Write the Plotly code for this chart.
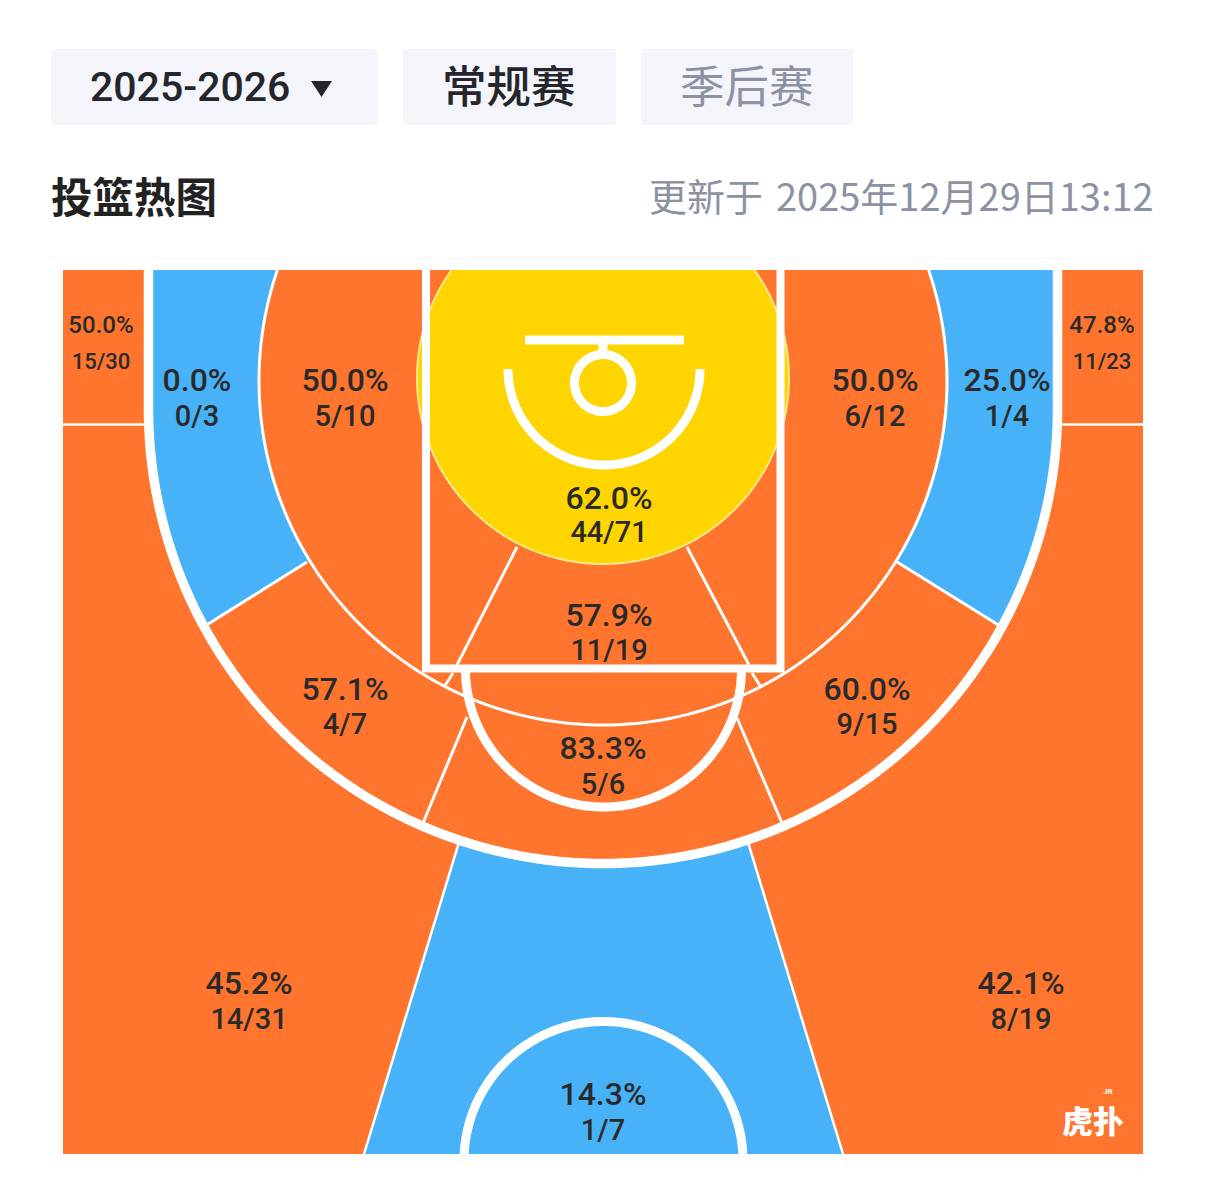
import numpy as np
import plotly.graph_objects as go

# ===============================
# 0. DATA
# ===============================
SEASON = "2025-2026"
TAB_REGULAR = "常规赛"
TAB_PLAYOFF = "季后赛"
TITLE = "投篮热图"
UPDATED_PREFIX = "更新于"
UPDATED_TIME = "2025年12月29日13:12"

ZONE_NAMES = [
    "left corner", "right corner", "left wing 3", "left mid", "right mid",
    "right wing 3", "rim", "paint", "left elbow", "right elbow",
    "free throw", "left deep", "right deep", "top 3",
]
ZONE_PCT = [
    "50.0%", "47.8%", "0.0%", "50.0%", "50.0%", "25.0%", "62.0%",
    "57.9%", "57.1%", "60.0%", "83.3%", "45.2%", "42.1%", "14.3%",
]
ZONE_MADE = [15, 11, 0, 5, 6, 1, 44, 11, 4, 9, 5, 14, 8, 1]
ZONE_ATT = [30, 23, 3, 10, 12, 4, 71, 19, 7, 15, 6, 31, 19, 7]

ORANGE = "#FF752D"
BLUE = "#47B2F7"
YELLOW = "#FFD500"
WHITE = "#FFFFFF"
INK = "#2A2A2A"
GREY = "#8B92A1"
TAB_BG = "#F3F5FB"

# ===============================
# 1. COURT GEOMETRY (page pixels)
# ===============================
LEFT, RIGHT, TOP, BOTTOM = 63, 1143, 270, 1154
CX = 603
THREE_Y, THREE_R = 409, 454.5
MID_Y, MID_R = 381, 344
RIM_Y, RIM_R = 378, 186
FT_Y, FT_R = 669, 138
KEY_Y, KEY_R = 1161, 139.5
TEXT_DY = 3

LABEL_XY = {
    "left corner": (101, 324, 360), "right corner": (1102, 324, 360),
    "left wing 3": (197, 380, 416), "left mid": (345, 380, 416),
    "right mid": (875, 380, 416), "right wing 3": (1007, 380, 416),
    "rim": (609, 498, 532), "paint": (609, 615, 650),
    "left elbow": (345, 689, 724), "right elbow": (867, 689, 724),
    "free throw": (603, 748, 784), "left deep": (249, 983, 1019),
    "right deep": (1021, 983, 1019), "top 3": (603, 1094, 1130),
}


def arc(cy, r, a0, a1, cx=CX, n=240):
    # angle 0 = right, 90 = straight down on the page
    a = np.radians(np.linspace(a0, a1, n))
    return cx + r * np.cos(a), cy + r * np.sin(a)


def angle_at(px, py, cy):
    return np.degrees(np.arctan2(py - cy, px - CX))


fig = go.Figure()


def add_fill(x, y, color):
    fig.add_trace(go.Scatter(
        x=x, y=y, mode="lines", fill="toself", fillcolor=color,
        line=dict(color=color, width=0, simplify=False),
        hoverinfo="skip", showlegend=False,
    ))


def add_line(x, y, width, color=WHITE):
    fig.add_trace(go.Scatter(
        x=x, y=y, mode="lines",
        line=dict(color=color, width=width, simplify=False),
        hoverinfo="skip", showlegend=False,
    ))


def add_seg(x0, y0, x1, y1, width):
    add_line([x0, x1], [y0, y1], width)


def add_text(xs, ys, texts, size):
    fig.add_trace(go.Scatter(
        x=xs, y=ys, text=texts, mode="text", textposition="middle center",
        textfont=dict(family="Roboto", size=size, color=INK, weight=500),
        hoverinfo="skip", showlegend=False,
    ))


# ===============================
# 2. ZONE FILLS
# ===============================
add_fill([LEFT, RIGHT, RIGHT, LEFT, LEFT], [TOP, TOP, BOTTOM, BOTTOM, TOP], ORANGE)

# gap outside the three point line next to the corners
add_fill([144, 153, 153, 144, 144], [TOP, TOP, THREE_Y, THREE_Y, TOP], WHITE)

# wings, blue
a_out = angle_at(205, 626, THREE_Y)
a_in = angle_at(307, 562, MID_Y)
top_in = np.degrees(np.arcsin((TOP - MID_Y) / MID_R))
ox, oy = arc(THREE_Y, THREE_R, 180, a_out)
ix, iy = arc(MID_Y, MID_R, a_in, 180 - top_in)
add_fill(
    np.r_[CX - THREE_R, ox, ix, CX - THREE_R],
    np.r_[TOP, oy, iy, TOP],
    BLUE,
)
a_out_r = angle_at(1000, 626, THREE_Y)
a_in_r = angle_at(897, 562, MID_Y)
ox, oy = arc(THREE_Y, THREE_R, 0, a_out_r)
ix, iy = arc(MID_Y, MID_R, a_in_r, top_in)
add_fill(
    np.r_[CX + THREE_R, ox, ix, CX + THREE_R],
    np.r_[TOP, oy, iy, TOP],
    BLUE,
)

# deep zone above the break, blue
a_l = angle_at(457, 848, THREE_Y)
a_r = angle_at(750, 848, THREE_Y)
ax, ay = arc(THREE_Y, THREE_R, a_l, a_r)
add_fill(np.r_[364, ax, 843, 364], np.r_[BOTTOM, ay, BOTTOM, BOTTOM], BLUE)
add_seg(364, BOTTOM, ax[0], ay[0], 2.5)
add_seg(843, BOTTOM, ax[-1], ay[-1], 2.5)

# corner separators
add_seg(LEFT, 424.5, 144, 424.5, 2.5)
add_seg(1062, 424.5, RIGHT, 424.5, 2.5)

# ===============================
# 3. THIN ZONE LINES
# ===============================
mx, my = arc(MID_Y, MID_R, top_in, 180 - top_in)
add_line(mx, my, 3)

add_seg(205, 626, 307, 562, 3)
add_seg(1000, 626, 897, 562, 3)
add_seg(467, 717, 423, 823, 3)
add_seg(737, 718, 782, 823, 3)
add_seg(517, 547, 457, 665, 3)
add_seg(453, 673, 444, 687, 3)
add_seg(687, 547, 749, 665, 3)
add_seg(752, 673, 761, 687, 3)

# ===============================
# 4. RIM CIRCLE
# ===============================
keep_top = np.degrees(np.arcsin((TOP - RIM_Y) / RIM_R))
rx, ry = arc(RIM_Y, RIM_R, keep_top, 180 - keep_top, n=360)
add_fill(np.r_[rx, rx[0]], np.r_[ry, ry[0]], YELLOW)
add_line(rx, ry, 2, color="#FFE98A")

# ===============================
# 5. ZONE LABELS
# ===============================
for small, names in [(True, ZONE_NAMES[:2]), (False, ZONE_NAMES[2:])]:
    xs, y_pct, y_fg, pcts, fgs = [], [], [], [], []
    for name in names:
        i = ZONE_NAMES.index(name)
        px, yp, yf = LABEL_XY[name]
        xs.append(px)
        y_pct.append(yp + TEXT_DY)
        y_fg.append(yf + TEXT_DY)
        pcts.append(ZONE_PCT[i])
        fgs.append(f"{ZONE_MADE[i]}/{ZONE_ATT[i]}")
    add_text(xs, y_pct, pcts, 24 if small else 32)
    add_text(xs, y_fg, fgs, 22 if small else 29)

# ===============================
# 6. HEAVY COURT LINES
# ===============================
# three point line
tx, ty = arc(THREE_Y, THREE_R, 0, 180, n=480)
add_line(np.r_[CX + THREE_R, tx, CX - THREE_R], np.r_[TOP, ty, TOP], 9.5)

# paint
add_line([426, 426, 780.5, 780.5], [TOP, 668.5, 668.5, TOP], 8)

# free throw half circle
fx, fy = arc(FT_Y, FT_R, 0, 180, cx=603.5)
add_line(fx, fy, 9)

# top of the key at the bottom edge
start = np.degrees(np.arcsin((BOTTOM - KEY_Y) / KEY_R))
kx, ky = arc(KEY_Y, KEY_R, 180 - start, 360 + start, cx=603.5)
add_line(kx, ky, 9)

# backboard, neck, ring, restricted area
add_seg(525, 340, 684, 340, 9)
add_seg(CX, 340, CX, 355, 9)
hx, hy = arc(383, 28.5, 0, 360, cx=CX)
add_line(hx, hy, 9)
bx, by = arc(369, 96, 0, 180, cx=604)
add_line(bx, by, 9)

# ===============================
# 7. HEADER + LAYOUT
# ===============================
shapes = [
    dict(type="path", path="M 57 49 H 372 Q 378 49 378 55 V 119 Q 378 125 372 125 H 57 Q 51 125 51 119 V 55 Q 51 49 57 49 Z",
         fillcolor=TAB_BG, line_width=0, layer="below"),
    dict(type="rect", x0=403, x1=616, y0=49, y1=125, fillcolor=TAB_BG, line_width=0, layer="below"),
    dict(type="rect", x0=641, x1=853, y0=49, y1=125, fillcolor=TAB_BG, line_width=0, layer="below"),
    dict(type="path", path="M 311 81 L 332 81 L 321.5 97 Z", fillcolor="#24262B", line_width=0),
    dict(type="line", x0=52, x1=1152, y0=258, y1=258, line=dict(color="#F6F6F6", width=1), layer="below"),
]


def label(text, x, y, size, color, anchor="center", family="Noto Sans CJK SC", weight=400):
    return dict(
        text=text, x=x, y=y, xanchor=anchor, yanchor="middle", showarrow=False,
        font=dict(family=family, size=size, color=color, weight=weight),
    )


annotations = [
    label(SEASON, 190, 87, 41, "#24262B", family="Roboto", weight=500),
    label(TAB_REGULAR, 509, 83, 44.5, "#24262B", weight=500),
    label(TAB_PLAYOFF, 746.5, 83, 44.5, GREY),
    label(TITLE, 49, 195, 41.5, "#222222", anchor="left", weight=700),
    label(UPDATED_PREFIX, 647, 194, 38, GREY, anchor="left"),
    label(UPDATED_TIME, 1156, 194, 38, GREY, anchor="right"),
    label("虎扑", 1093, 1119, 31, WHITE, weight=900),
    label("JR", 1108, 1091, 8, WHITE, family="Roboto", weight=700),
]

fig.update_layout(
    width=1206, height=1180, margin=dict(l=0, r=0, t=0, b=0),
    paper_bgcolor=WHITE, plot_bgcolor=WHITE, showlegend=False,
    xaxis=dict(range=[0, 1206], visible=False, fixedrange=True),
    yaxis=dict(range=[1180, 0], visible=False, fixedrange=True),
    shapes=shapes, annotations=annotations,
)

fig.write_html(
    "out.html",
    config=dict(displayModeBar=False),
    post_script="document.body.style.margin='0';document.body.style.overflow='hidden';",
)
